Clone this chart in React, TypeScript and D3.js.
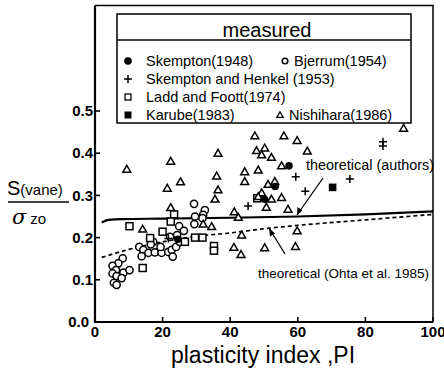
import React from "react";
import * as d3 from "d3";

// measured points: [PI, S(vane)/sigma_zo]
const skempton: [number, number][] = [
  [57.4, 0.37], [53.3, 0.321], [50.2, 0.291], [24.5, 0.196],
];
const bjerrum: [number, number][] = [
  [29.4, 0.232], [24.9, 0.227], [26.3, 0.216], [24.3, 0.206], [22.2, 0.202],
  [17.2, 0.19], [16.5, 0.184], [13.1, 0.178], [14.3, 0.171], [13.8, 0.156],
  [15.8, 0.164], [17.7, 0.165], [19.7, 0.164], [21.7, 0.166], [22.7, 0.171],
  [24, 0.178], [25.1, 0.19], [23, 0.155], [19.4, 0.178], [8.2, 0.151],
  [6.9, 0.139], [5.2, 0.133], [6.2, 0.123], [5.2, 0.115], [8.4, 0.117],
  [10.2, 0.123], [6.4, 0.109], [7.9, 0.104], [5.6, 0.093], [6.4, 0.088],
  [29.3, 0.28], [32.5, 0.265], [32, 0.254], [29.6, 0.25], [31.8, 0.246],
];
const henkel: [number, number][] = [
  [45.3, 0.275], [59.4, 0.344], [62.2, 0.31], [85.2, 0.427], [85.2, 0.417],
  [75.4, 0.339], [21.7, 0.198],
];
const ladd: [number, number][] = [
  [10.2, 0.227], [23.4, 0.255], [22.4, 0.238], [20, 0.214], [16.3, 0.199],
  [14.1, 0.128], [26.6, 0.19], [29.6, 0.2], [31.8, 0.2], [35.2, 0.18],
  [35.2, 0.169], [48, 0.293],
];
const karube: [number, number][] = [[70.3, 0.319]];
const nishihara: [number, number][] = [
  [9.4, 0.362], [22.4, 0.381], [21.4, 0.317], [25.3, 0.332], [22.4, 0.271],
  [14.1, 0.22], [47.3, 0.441], [55.9, 0.441], [59.8, 0.43], [36.4, 0.4],
  [47.8, 0.406], [50.2, 0.412], [49.3, 0.396], [52.2, 0.39], [62.8, 0.405],
  [55.2, 0.37], [44.3, 0.356], [48.3, 0.36], [36, 0.346], [44.3, 0.333],
  [51.2, 0.326], [53.2, 0.333], [36.4, 0.313], [35.5, 0.291], [49.3, 0.306],
  [48.3, 0.297], [52.2, 0.291], [55.2, 0.295], [50.7, 0.272], [57.1, 0.267],
  [41.2, 0.261], [42.4, 0.248], [34.5, 0.226], [32, 0.232], [43.4, 0.206],
  [59.8, 0.216], [41.1, 0.177], [43.2, 0.16], [50.2, 0.176], [59.3, 0.179],
  [91.3, 0.459],
];

// theoretical curves
const authorsLine: [number, number][] = [
  [2, 0.236], [4, 0.242], [8, 0.244], [20, 0.245], [40, 0.247],
  [60, 0.25], [80, 0.255], [100, 0.262],
];
const ohtaLine: [number, number][] = [
  [2, 0.153], [10, 0.172], [20, 0.19], [30, 0.203], [40, 0.211],
  [50, 0.221], [60, 0.229], [80, 0.242], [100, 0.255],
];

const xTicks = [0, 20, 40, 60, 80, 100];
const yTicks = [0, 0.1, 0.2, 0.3, 0.4, 0.5];

const W = 444;
const H = 373;
const font = "Arial, 'Liberation Sans', Helvetica, sans-serif";

const x = d3.scaleLinear().domain([0, 100]).range([95, 433]);
const y = d3.scaleLinear().domain([0, 0.75]).range([322, 5.5]);

const line = d3
  .line<[number, number]>()
  .x((d) => x(d[0]))
  .y((d) => y(d[1]))
  .curve(d3.curveMonotoneX);

const tri = (cx: number, cy: number, s = 3.9) =>
  `M${cx},${cy - s}L${cx + s},${cy + s * 0.75}L${cx - s},${cy + s * 0.75}Z`;

const Marker = ({ kind, cx, cy }: { kind: string; cx: number; cy: number }) => {
  const st = { stroke: "#000", strokeWidth: 1.5 };
  if (kind === "filledCircle") return <circle cx={cx} cy={cy} r={3.8} fill="#000" />;
  if (kind === "circle") return <circle cx={cx} cy={cy} r={3.6} fill="white" {...st} />;
  if (kind === "square")
    return <rect x={cx - 3.5} y={cy - 3.5} width={7} height={7} fill="white" {...st} />;
  if (kind === "filledSquare")
    return <rect x={cx - 3.8} y={cy - 3.8} width={7.6} height={7.6} fill="#000" />;
  if (kind === "plus")
    return (
      <path d={`M${cx - 4},${cy}H${cx + 4}M${cx},${cy - 4}V${cy + 4}`} {...st} />
    );
  return <path d={tri(cx, cy)} fill="white" {...st} strokeLinejoin="miter" />;
};

const series: { kind: string; data: [number, number][] }[] = [
  { kind: "circle", data: bjerrum },
  { kind: "square", data: ladd },
  { kind: "triangle", data: nishihara },
  { kind: "plus", data: henkel },
  { kind: "filledCircle", data: skempton },
  { kind: "filledSquare", data: karube },
];

export default function App() {
  return (
    <svg
      width={W}
      height={H}
      style={{ position: "absolute", left: 0, top: 0, background: "white" }}
      fontFamily={font}
    >
      {/* theoretical lines */}
      <path d={line(ohtaLine) || ""} fill="none" stroke="#000" strokeWidth={1.7} strokeDasharray="4,3" />
      <path d={line(authorsLine) || ""} fill="none" stroke="#000" strokeWidth={2.2} />

      {series.map((s) =>
        s.data.map((d, i) => (
          <Marker key={s.kind + i} kind={s.kind} cx={x(d[0])} cy={y(d[1])} />
        ))
      )}

      {/* frame */}
      <path d={`M${x(0)},${y.range()[1]}H${x(100)}V${y(0)}`} fill="none" stroke="#000" strokeWidth={1.5} />
      <path d={`M${x(0)},${y.range()[1]}V${y(0)}H${x(100)}`} fill="none" stroke="#000" strokeWidth={2.2} />

      {/* ticks */}
      {yTicks.map((t) => (
        <g key={"y" + t}>
          <line x1={x(0)} x2={x(0) + 5} y1={y(t)} y2={y(t)} stroke="#000" strokeWidth={1.6} />
          <text x={t === 0 ? 89 : 93} y={y(t)} dy="0.35em" textAnchor="end" fontSize={15} fontWeight="bold">
            {t.toFixed(1)}
          </text>
        </g>
      ))}
      {xTicks.map((t) => (
        <g key={"x" + t}>
          <line x1={x(t)} x2={x(t)} y1={y(0)} y2={y(0) - 5} stroke="#000" strokeWidth={1.6} />
          <text x={x(t)} y={337} textAnchor="middle" fontSize={15} fontWeight="bold">
            {t}
          </text>
        </g>
      ))}

      {/* axis titles */}
      <text x={263} y={363} textAnchor="middle" fontSize={23}>
        plasticity index ,PI
      </text>
      <text x={7} y={195}>
        <tspan fontSize={20}>S</tspan>
        <tspan fontSize={15}>(vane)</tspan>
      </text>
      <line x1={8} x2={69} y1={202} y2={202} stroke="#000" strokeWidth={1.3} />
      <text x={12} y={224}>
        <tspan fontSize={21} fontStyle="italic" fontFamily="'DejaVu Serif', serif">σ</tspan>
        <tspan fontSize={15} dx={4}>zo</tspan>
      </text>

      {/* annotations */}
      <text x={306} y={170} fontSize={14.4}>theoretical (authors)</text>
      <line x1={323} y1={178} x2={297} y2={215} stroke="#000" strokeWidth={1.3} />
      <path d="M297,215 L297.5,207 L302.5,210.5 Z" fill="#000" />
      <text x={258} y={278} fontSize={13.5}>theoretical (Ohta et al. 1985)</text>
      <line x1={285} y1={254} x2={269} y2={228} stroke="#000" strokeWidth={1.3} />
      <path d="M269,228 L275,233.5 L270,236.5 Z" fill="#000" />

      {/* legend */}
      <rect x={117} y={14} width={294} height={109} fill="white" stroke="#000" strokeWidth={1.5} />
      <line x1={117} x2={411} y1={40} y2={40} stroke="#000" strokeWidth={1.5} />
      <text x={267} y={29.5} dy="0.35em" textAnchor="middle" fontSize={20}>measured</text>
      <g fontSize={14.5}>
        <circle cx={128} cy={61} r={3.8} fill="#000" />
        <text x={146} y={61} dy="0.35em">Skempton(1948)</text>
        <circle cx={285} cy={61} r={2.8} fill="white" stroke="#000" strokeWidth={1.6} />
        <text x={294} y={61} dy="0.35em">Bjerrum(1954)</text>
        <Marker kind="plus" cx={128} cy={79} />
        <text x={146} y={79} dy="0.35em">Skempton and Henkel (1953)</text>
        <rect x={125} y={94} width={6} height={6} fill="white" stroke="#000" strokeWidth={1.3} />
        <text x={146} y={97} dy="0.35em">Ladd and Foott(1974)</text>
        <rect x={124.5} y={111.5} width={7} height={7} fill="#000" />
        <text x={146} y={115} dy="0.35em">Karube(1983)</text>
        <path d={tri(280, 115, 3.2)} fill="white" stroke="#000" strokeWidth={1.3} />
        <text x={289} y={115} dy="0.35em">Nishihara(1986)</text>
      </g>
    </svg>
  );
}
